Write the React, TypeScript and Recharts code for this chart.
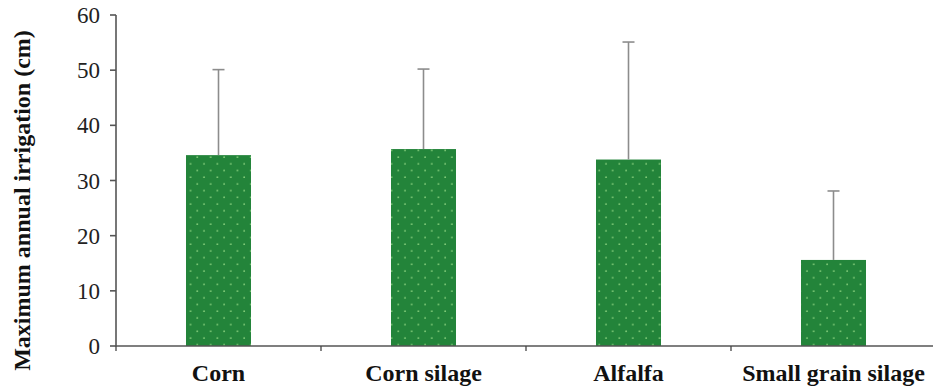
import React from 'react';
import { BarChart, Bar, XAxis, YAxis } from 'recharts';

const categories = ['Corn', 'Corn silage', 'Alfalfa', 'Small grain silage'];
const meanIrrigation = [34.6, 35.7, 33.8, 15.6];
const upperError = [15.5, 14.5, 21.3, 12.5];
const yTicks = [0, 10, 20, 30, 40, 50, 60];

const data = categories.map((c, i) => ({ name: c, value: meanIrrigation[i], err: upperError[i] }));

const FONT = '"Liberation Serif", "Times New Roman", serif';
const CHART_W = 940;
const CHART_H = 390;
const Y_AXIS_W = 116;
const MARGIN = { top: 15, right: 4, bottom: 0, left: 0 };
const BAND = (CHART_W - Y_AXIS_W - MARGIN.left - MARGIN.right) / categories.length;

const BarWithError = (props: any) => {
  const { x, y, width, height, payload } = props;
  if (!payload || !height) return null;
  const ppu = height / payload.value;
  const eTop = y - payload.err * ppu;
  const cx = x + width / 2;
  return (
    <g>
      <rect x={x} y={y} width={width} height={height} fill="url(#dotsPattern)" />
      <line x1={cx} y1={y} x2={cx} y2={eTop} stroke="#8c8c8c" strokeWidth={1.6} />
      <line x1={cx - 6} y1={eTop} x2={cx + 6} y2={eTop} stroke="#8c8c8c" strokeWidth={1.6} />
    </g>
  );
};

const CatTick = (props: any) => {
  const { x, y, payload } = props;
  const axisY = y - 18;
  const bx = x - BAND / 2;
  return (
    <g>
      <line x1={bx} y1={axisY} x2={bx} y2={axisY + 5} stroke="#444" strokeWidth={1.3} />
      <text
        x={x}
        y={y}
        dy="0.71em"
        textAnchor="middle"
        fontFamily={FONT}
        fontWeight="bold"
        fontSize={24}
        fill="#111"
      >
        {payload.value}
      </text>
    </g>
  );
};

const YLabel = (props: any) => {
  const vb = props.viewBox || {};
  const cx = 22;
  const cy = vb.y + vb.height / 2 + 20;
  return (
    <text
      x={cx}
      y={cy}
      transform={`rotate(-90, ${cx}, ${cy})`}
      textAnchor="middle"
      dominantBaseline="central"
      fontFamily={FONT}
      fontWeight="bold"
      fontSize={24}
      fill="#111"
    >
      Maximum annual irrigation (cm)
    </text>
  );
};

export default function App() {
  return (
    <div style={{ position: 'absolute', left: 0, top: 0, width: 933, height: 390, overflow: 'hidden', background: '#fff' }}>
      <BarChart
        width={CHART_W}
        height={CHART_H}
        data={data}
        margin={MARGIN}
      >
        <defs>
          <pattern id="dotsPattern" patternUnits="userSpaceOnUse" width={13.4} height={13.4}>
            <rect x={0} y={0} width={13.4} height={13.4} fill="#23843a" />
            <circle cx={3} cy={3} r={0.9} fill="#86cf7c" />
            <circle cx={9.7} cy={9.7} r={0.9} fill="#86cf7c" />
          </pattern>
        </defs>
        <XAxis
          dataKey="name"
          type="category"
          height={44}
          axisLine={{ stroke: '#555', strokeWidth: 1.6 }}
          tickLine={false}
          tickSize={0}
          tickMargin={18}
          tick={<CatTick />}
          interval={0}
        />
        <YAxis
          domain={[0, 60]}
          ticks={yTicks}
          width={Y_AXIS_W}
          axisLine={{ stroke: '#555', strokeWidth: 1.6 }}
          tickLine={{ stroke: '#555', strokeWidth: 1.6 }}
          tickSize={6}
          tickMargin={10}
          tick={{ fontFamily: FONT, fontSize: 23, fill: '#222' }}
          label={<YLabel />}
        />
        <Bar
          dataKey="value"
          barSize={65}
          isAnimationActive={false}
          shape={<BarWithError />}
        />
      </BarChart>
    </div>
  );
}
